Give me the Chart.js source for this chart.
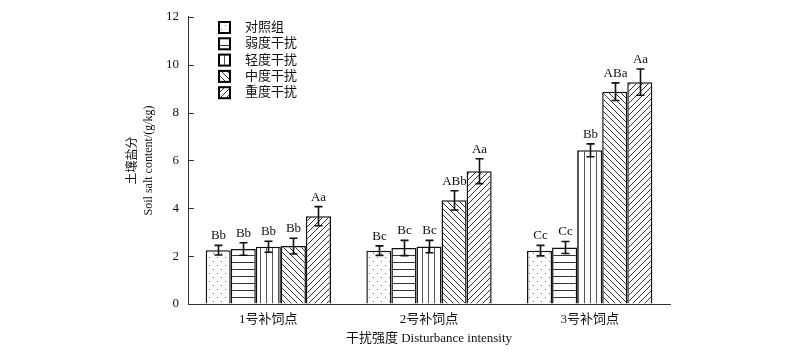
<!DOCTYPE html>
<html>
<head>
<meta charset="utf-8">
<script src="https://cdn.jsdelivr.net/npm/chart.js@4.4.0/dist/chart.umd.min.js"></script>
<style>
  html, body { margin: 0; padding: 0; background: #fff; }
</style>
</head>
<body>
<canvas id="salt-canvas" width="800" height="352"></canvas>
<script>

// dados
var pontos = ['1号补饲点', '2号补饲点', '3号补饲点'];
var nomesSeries = ['对照组', '弱度干扰', '轻度干扰', '中度干扰', '重度干扰'];

var controle = [2.25, 2.23, 2.23];
var fraco = [2.30, 2.34, 2.36];
var leve = [2.39, 2.40, 6.42];
var medio = [2.42, 4.33, 8.87];
var pesado = [3.67, 5.55, 9.27];

var erroControle = [0.20, 0.20, 0.22];
var erroFraco = [0.26, 0.32, 0.25];
var erroLeve = [0.23, 0.26, 0.27];
var erroMedio = [0.33, 0.40, 0.37];
var erroPesado = [0.40, 0.52, 0.55];

var letrasControle = ['Bb', 'Bc', 'Cc'];
var letrasFraco = ['Bb', 'Bc', 'Cc'];
var letrasLeve = ['Bb', 'Bc', 'Bb'];
var letrasMedio = ['Bb', 'ABb', 'ABa'];
var letrasPesado = ['Aa', 'Aa', 'Aa'];

var ticksY = [0, 2, 4, 6, 8, 10, 12];

var fonteSerif = "'Liberation Serif', 'Times New Roman', 'Noto Sans CJK SC', serif";

function criarPadrao(tipo) {
    var c = document.createElement('canvas');
    var ctx = c.getContext('2d');
    var s = 6;
    if (tipo === 'pontos') s = 8;
    if (tipo === 'horizontal') s = 7;
    c.width = s;
    c.height = s;
    ctx.fillStyle = '#fff';
    ctx.fillRect(0, 0, s, s);
    ctx.strokeStyle = '#333';
    ctx.fillStyle = '#777';
    ctx.lineWidth = 1;
    if (tipo === 'pontos') {
        ctx.fillRect(1, 1, 1, 1);
        ctx.fillRect(5, 5, 1, 1);
    } else if (tipo === 'horizontal') {
        ctx.beginPath();
        ctx.moveTo(0, 3.5);
        ctx.lineTo(s, 3.5);
        ctx.stroke();
    } else if (tipo === 'vertical') {
        ctx.strokeStyle = '#555';
        ctx.beginPath();
        ctx.moveTo(2.5, 0);
        ctx.lineTo(2.5, s);
        ctx.stroke();
    } else if (tipo === 'contra') {
        ctx.beginPath();
        ctx.moveTo(-1, -1);
        ctx.lineTo(s + 1, s + 1);
        ctx.moveTo(-1, s - 1);
        ctx.lineTo(1, s + 1);
        ctx.moveTo(s - 1, -1);
        ctx.lineTo(s + 1, 1);
        ctx.stroke();
    } else if (tipo === 'barra') {
        ctx.beginPath();
        ctx.moveTo(-1, s + 1);
        ctx.lineTo(s + 1, -1);
        ctx.moveTo(-1, 1);
        ctx.lineTo(1, -1);
        ctx.moveTo(s - 1, s + 1);
        ctx.lineTo(s + 1, s - 1);
        ctx.stroke();
    }
    return c.getContext('2d').createPattern(c, 'repeat');
}

var padroes = [
    criarPadrao('pontos'),
    criarPadrao('horizontal'),
    criarPadrao('vertical'),
    criarPadrao('contra'),
    criarPadrao('barra')
];

var valores = [controle, fraco, leve, medio, pesado];
var erros = [erroControle, erroFraco, erroLeve, erroMedio, erroPesado];
var letras = [letrasControle, letrasFraco, letrasLeve, letrasMedio, letrasPesado];

// barras de erro, letras e ticks para dentro
var pluginExtras = {
    id: 'extras',
    afterDatasetsDraw: function (chart) {
        var ctx = chart.ctx;
        var escalaY = chart.scales.y;
        ctx.save();
        chart.data.datasets.forEach(function (ds, i) {
            var meta = chart.getDatasetMeta(i);
            meta.data.forEach(function (barra, j) {
                var v = ds.data[j];
                var e = ds.erro[j];
                var x = Math.round(barra.x) + 0.5;
                var yTopo = escalaY.getPixelForValue(v + e);
                var yBase = escalaY.getPixelForValue(v - e);
                ctx.strokeStyle = '#111';
                ctx.lineWidth = 1.6;
                ctx.beginPath();
                ctx.moveTo(x, yTopo);
                ctx.lineTo(x, yBase);
                ctx.moveTo(x - 4, yTopo);
                ctx.lineTo(x + 4, yTopo);
                ctx.moveTo(x - 4, yBase);
                ctx.lineTo(x + 4, yBase);
                ctx.stroke();

                ctx.fillStyle = '#111';
                ctx.font = '13px ' + fonteSerif;
                ctx.textAlign = 'center';
                ctx.textBaseline = 'bottom';
                ctx.fillText(ds.letras[j], x, yTopo - 3);
            });
        });
        ctx.restore();
    },
    afterDraw: function (chart) {
        var ctx = chart.ctx;
        var escalaY = chart.scales.y;
        var area = chart.chartArea;
        ctx.save();
        ctx.strokeStyle = '#333';
        ctx.lineWidth = 1;
        ctx.beginPath();
        escalaY.ticks.forEach(function (t, i) {
            var py = Math.round(escalaY.getPixelForTick(i)) + 0.5;
            ctx.moveTo(area.left, py);
            ctx.lineTo(area.left + 6, py);
        });
        ctx.stroke();

        // legenda
        var x0 = 219;
        var y0 = 27;
        chart.data.datasets.forEach(function (ds, i) {
            var cy = y0 + i * 16.3;
            ctx.fillStyle = ds.backgroundColor;
            ctx.fillRect(x0, cy - 5, 11, 11);
            ctx.strokeStyle = '#000';
            ctx.lineWidth = 2;
            ctx.strokeRect(x0, cy - 5, 11, 11);
            ctx.fillStyle = '#111';
            ctx.font = '13px ' + fonteSerif;
            ctx.textAlign = 'left';
            ctx.textBaseline = 'middle';
            ctx.fillText(ds.label, x0 + 26, cy + 0.5);
        });
        ctx.restore();
    }
};

function plotarGraficoSal() {

    var saltCanvas = document.getElementById('salt-canvas').getContext('2d');

    var datasets = nomesSeries.map(function (nome, i) {
        return {
            label: nome,
            data: valores[i],
            erro: erros[i],
            letras: letras[i],
            backgroundColor: padroes[i],
            borderColor: '#111',
            borderWidth: 1.5,
            borderSkipped: 'bottom',
            barPercentage: 1,
            categoryPercentage: 0.78
        };
    });

    new Chart(saltCanvas, {
        type: 'bar',
        data: {
            labels: pontos,
            datasets: datasets
        },
        options: {
            responsive: false,
            animation: false,
            layout: {
                padding: { left: 120, right: 130, top: 13, bottom: 0 }
            },
            scales: {
                x: {
                    grid: { display: false, drawTicks: false },
                    border: { display: true, color: '#333', width: 1 },
                    ticks: {
                        color: '#111',
                        padding: 8,
                        font: { family: fonteSerif, size: 13 }
                    },
                    title: {
                        display: true,
                        text: '干扰强度 Disturbance intensity',
                        color: '#111',
                        padding: { top: 0, bottom: 6 },
                        font: { family: fonteSerif, size: 13 }
                    },
                    afterFit: function (scale) {
                        scale.height = 48;
                    }
                },
                y: {
                    min: 0,
                    max: 12,
                    afterBuildTicks: function (scale) {
                        scale.ticks = ticksY.map(function (v) { return { value: v }; });
                    },
                    grid: { display: true, drawOnChartArea: false, drawTicks: false },
                    border: { display: true, color: '#333', width: 1 },
                    ticks: {
                        color: '#111',
                        padding: 9,
                        font: { family: fonteSerif, size: 13 }
                    },
                    title: {
                        display: true,
                        text: ['土壤盐分', 'Soil salt content/(g/kg)'],
                        color: '#111',
                        padding: { top: 4, bottom: 0 },
                        font: { family: fonteSerif, size: 12, lineHeight: 1.4 }
                    },
                    afterFit: function (scale) {
                        scale.width = 68;
                    }
                }
            },
            plugins: {
                legend: { display: false },
                tooltip: { enabled: false }
            }
        },
        plugins: [pluginExtras]
    });
}

plotarGraficoSal();
</script>
</body>
</html>
